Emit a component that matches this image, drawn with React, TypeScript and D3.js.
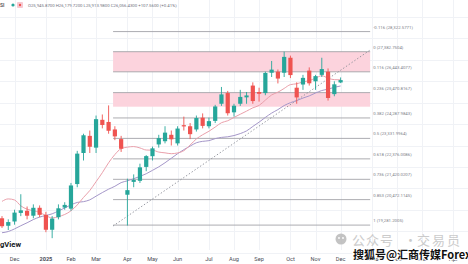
import React from "react";
import * as d3 from "d3";

const W = 468;
const H = 264;

// Weekly HSI candles, first week 2024-11-18, last week 2025-12-01
const firstWeek = new Date(Date.UTC(2024, 10, 18));
const lastWeek = new Date(Date.UTC(2025, 11, 2));
const opens = [19600, 19250, 19450, 19850, 19950, 19720, 20090, 19760, 19064, 19650, 20100, 20050, 21200, 22650, 23450, 22900, 24200, 24100, 23750, 23300, 20700, 21300, 21350, 22000, 22500, 23050, 23200, 23500, 23100, 23950, 23900, 23750, 24300, 23900, 24150, 24950, 25450, 24550, 24950, 25250, 25800, 25500, 25450, 26400, 26450, 26400, 27100, 25700, 25850, 26500, 26000, 26300, 26450, 25400, 25945.87];
const highs = [19700, 19550, 20000, 20724, 20150, 20250, 20200, 19900, 19700, 20250, 20350, 21250, 22750, 23550, 23700, 24400, 24450, 24874, 23900, 23450, 21450, 21650, 22150, 22550, 22950, 23500, 23900, 23700, 23900, 24350, 24050, 24400, 24500, 24300, 24900, 25735, 25550, 24950, 25600, 25500, 25950, 25700, 26450, 26950, 26550, 27382.75, 27200, 25950, 26300, 26650, 26300, 27100, 26600, 26000, 26179.72];
const lows = [19150, 19050, 19300, 19700, 19550, 19600, 19650, 18950, 18671, 19550, 20000, 19950, 21050, 22300, 22650, 22650, 23800, 23550, 23250, 22700, 19260, 21050, 21250, 21800, 22300, 22900, 23100, 23000, 23000, 23700, 23300, 23650, 23800, 23800, 24050, 24850, 24400, 24350, 24850, 24950, 24950, 25050, 25350, 26200, 25900, 26200, 26150, 24950, 25600, 25800, 25600, 26200, 25100, 25300, 25913.98];
const closes = [19229, 19423, 19865, 19971, 19720, 20090, 19760, 19064, 19584, 20066, 20225, 21133, 22620, 23478, 22941, 24231, 23959, 23689, 23426, 22849, 20914, 21395, 21980, 22504, 22867, 23345, 23601, 23290, 23792, 23892, 23530, 24284, 23916, 24139, 24825, 25388, 24507, 24859, 25270, 25339, 25077, 25418, 26388, 26545, 26128, 27140, 26290, 25247, 26160, 25906, 26241, 26572, 25220, 25858, 26056.43];
const ma10 = [20389, 20505, 20456, 20179, 20026, 19955, 19872, 19728, 19613, 19677, 19777, 19948, 20223, 20574, 20896, 21310, 21730, 22193, 22577, 22855, 22924, 22950, 22886, 22789, 22781, 22693, 22657, 22617, 22654, 22758, 23020, 23309, 23502, 23666, 23861, 24066, 24156, 24313, 24461, 24606, 24760, 24874, 25121, 25362, 25492, 25667, 25845, 25884, 25973, 26030, 26146, 26262, 26145, 26076, 26069];
const ma20 = [18925, 18981, 19104, 19251, 19390, 19540, 19656, 19729, 19809, 19940, 20083, 20226, 20340, 20377, 20461, 20633, 20801, 20960, 21095, 21266, 21350, 21449, 21555, 21681, 21839, 22002, 22194, 22405, 22615, 22807, 22972, 23129, 23194, 23227, 23321, 23379, 23407, 23465, 23557, 23682, 23890, 24091, 24312, 24514, 24677, 24866, 25001, 25099, 25217, 25318, 25453, 25568, 25633, 25719, 25781];

// Time axis
const tickDates = ["2024-12-02", "2025-01-06", "2025-02-03", "2025-03-03", "2025-04-07", "2025-05-05", "2025-06-02", "2025-07-07", "2025-08-04", "2025-09-01", "2025-10-06", "2025-11-03", "2025-12-01", "2026-01-05", "2026-02-02", "2026-03-02", "2026-04-06"];
const tickLabels = ["Dec", "2025", "Feb", "Mar", "Apr", "May", "Jun", "Jul", "Aug", "Sep", "Oct", "Nov", "Dec", "2026", "Feb", "Mar", "Apr"];

// Fibonacci retracement
const fibHigh = 27382.7504;
const fibLow = 19281.2005;
const fibLevels = [-0.116, 0, 0.116, 0.236, 0.382, 0.5, 0.618, 0.736, 0.853, 1];
const fibLabels = ["-0.116 (28,322.5771)", "0 (27,382.7504)", "0.116 (26,443.4077)", "0.236 (25,470.8167)", "0.382 (24,287.9843)", "0.5 (23,331.9964)", "0.618 (22,376.0086)", "0.736 (21,420.0207)", "0.853 (20,472.1145)", "1 (19,281.2005)"];
const fibStart = "2025-03-22";
const fibEnd = "2026-01-03";
const zoneTop = [27382.7504, 25470.8167];
const zoneBottom = [26443.4077, 24813];
const trendDates = ["2025-03-22", "2026-01-03"];
const trendPrices = [19240, 27462];

const header = "O25,945.8700 H26,179.7200 L25,913.9800 C26,056.4300 +107.5600 (+0.41%)";

const UP = "#26a69a";
const DOWN = "#ef5350";
const FONT = "Roboto, 'Noto Sans', 'DejaVu Sans', sans-serif";
const CJK = "'Noto Sans CJK SC', 'Noto Sans', sans-serif";

export default function App() {
  const dates = d3.utcMonday.range(firstWeek, lastWeek);
  const x = d3.scaleUtc().domain([dates[0], dates[dates.length - 1]]).range([2, 340.6]);
  const y = d3.scaleLinear().domain([fibLow, fibHigh]).range([225.1, 51.7]);
  const pd = (s: string) => new Date(s + "T00:00:00Z");
  const fibY = (lv: number) => y(fibHigh - lv * (fibHigh - fibLow));
  const gridY = d3.ticks(y.invert(H), y.invert(0), 12);
  const fx0 = x(pd(fibStart));
  const fx1 = x(pd(fibEnd));

  const line = d3
    .line<number>()
    .x((_, i) => x(dates[i]))
    .y((d) => y(d))
    .curve(d3.curveMonotoneX);

  return (
    <div style={{ position: "fixed", left: 0, top: 0, width: W, height: H, background: "#fff" }}>
      <svg width={W} height={H} style={{ display: "block" }} fontFamily={FONT}>
        <rect width={W} height={H} fill="#ffffff" />
        {/* grid */}
        {gridY.map((g) => (
          <line key={"gy" + g} x1={0} x2={W} y1={Math.round(y(g)) + 0.5} y2={Math.round(y(g)) + 0.5} stroke="#f0f2f6" strokeWidth={1} />
        ))}
        {tickDates.map((t) => (
          <line key={"gx" + t} x1={Math.round(x(pd(t))) + 0.5} x2={Math.round(x(pd(t))) + 0.5} y1={0} y2={250} stroke="#f0f2f6" strokeWidth={1} />
        ))}

        {/* zones */}
        {zoneTop.map((zt, i) => (
          <rect key={"z" + i} x={fx0} width={fx1 - fx0} y={y(zt)} height={y(zoneBottom[i]) - y(zt)} fill="#fcd3dd" />
        ))}

        {/* fib lines + labels */}
        {fibLevels.map((lv, i) => (
          <g key={"f" + i}>
            <line x1={fx0} x2={fx1} y1={fibY(lv)} y2={fibY(lv)} stroke="#a3a3a8" strokeWidth={0.9} />
            <text x={fx1 + 3} y={fibY(lv) - 3} fontSize={4.3} fill="#7d8089">
              {fibLabels[i]}
            </text>
          </g>
        ))}

        {/* trend line */}
        <line
          x1={x(pd(trendDates[0]))}
          y1={y(trendPrices[0])}
          x2={x(pd(trendDates[1]))}
          y2={y(trendPrices[1])}
          stroke="#8a8d96"
          strokeWidth={0.9}
          strokeDasharray="1.4 2"
        />

        {/* moving averages */}
        <path d={line(ma20) || ""} fill="none" stroke="#a597c9" strokeWidth={1} />
        <path d={line(ma10) || ""} fill="none" stroke="#eaa0ab" strokeWidth={1} />

        {/* candles */}
        {dates.map((d, i) => {
          const o = opens[i];
          const c = closes[i];
          const up = c >= o;
          const col = up ? UP : DOWN;
          const cx = x(d);
          const top = y(Math.max(o, c));
          const bot = y(Math.min(o, c));
          return (
            <g key={"c" + i}>
              <line x1={cx} x2={cx} y1={y(highs[i])} y2={y(lows[i])} stroke={col} strokeWidth={0.9} />
              <rect x={cx - 2.1} y={top} width={4.2} height={Math.max(1, bot - top)} fill={col} />
            </g>
          );
        })}

        {/* header */}
        <text x={0} y={7} fontSize={5} fill="#555" fontWeight={600}>SI</text>
        <circle cx={13} cy={5} r={1.6} fill="#26a69a" />
        <rect x={17} y={2} width={6} height={6} rx={1} fill="#f7c9d2" />
        <circle cx={20} cy={5} r={1.2} fill="#ef5350" />
        <text x={28} y={6.6} fontSize={4.3} fill="#6f7280">{header}</text>

        {/* x axis labels */}
        {tickDates.map((t, i) => (
          <text
            key={"t" + t}
            x={x(pd(t))}
            y={261}
            fontSize={5.6}
            textAnchor="middle"
            fill="#4a4d57"
            fontWeight={tickLabels[i].length === 4 ? 700 : 400}
          >
            {tickLabels[i]}
          </text>
        ))}

        {/* logo */}
        <text x={0} y={247} fontSize={7.6} fontWeight={700} fill="#131722">gView</text>

        {/* watermarks */}
        <g opacity={0.85}>
          <circle cx={341} cy={239} r={5.5} fill="#b9b9b9" />
          <circle cx={339} cy={238} r={0.9} fill="#fff" />
          <circle cx={343} cy={238} r={0.9} fill="#fff" />
          <text x={352} y={245} fontSize={13} fontFamily={CJK} fill="#c3c3c3" letterSpacing={1}>公众号</text>
          <text x={404} y={245} fontSize={13} fontFamily={CJK} fill="#c3c3c3">·</text>
          <text x={417} y={245} fontSize={13} fontFamily={CJK} fill="#c3c3c3" letterSpacing={2}>交易员</text>
        </g>
        <text
          x={353}
          y={259}
          fontSize={11}
          fontFamily={CJK}
          fontWeight={700}
          fill="#111"
          stroke="#fff"
          strokeWidth={2}
          paintOrder="stroke"
        >
          搜狐号@汇商传媒Forex
        </text>
      </svg>
    </div>
  );
}
